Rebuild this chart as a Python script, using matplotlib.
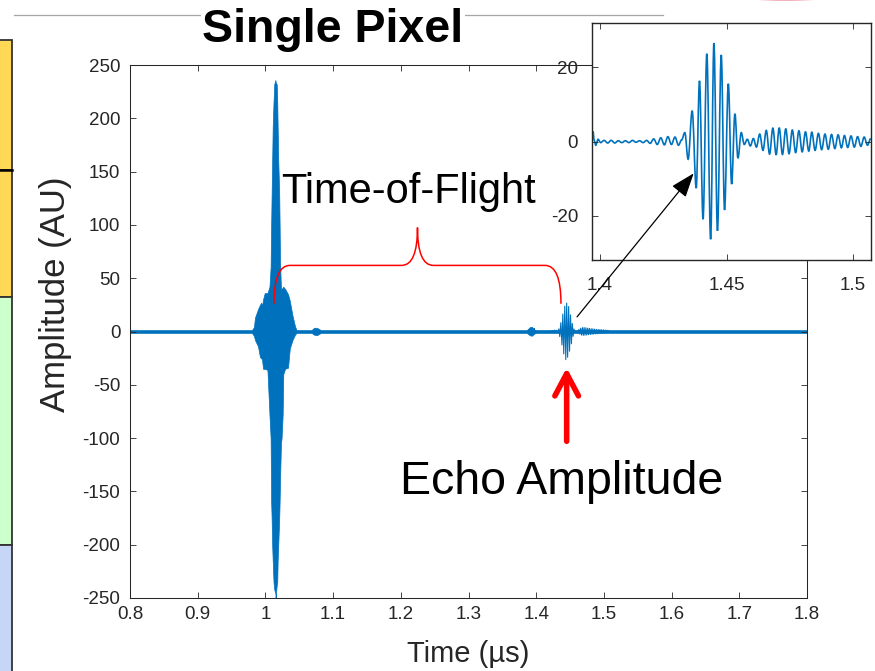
import numpy as np
import matplotlib
matplotlib.use("Agg")
import matplotlib.pyplot as plt
from matplotlib.path import Path
from matplotlib.patches import PathPatch, Rectangle, Ellipse

plt.rcParams["font.family"] = ["Liberation Sans", "DejaVu Sans"]
plt.rcParams["axes.unicode_minus"] = False

BLUE = "#0072BD"
INK = "#262626"

# envelope of the densely sampled A-scan (time in us, amplitude in AU)
env_t = [0.8000, 0.9800, 0.9830, 0.9846, 0.9891, 0.9920, 0.9935, 0.9950,
         0.9965, 0.9990, 1.0030, 1.0060, 1.0077, 1.0085, 1.0092, 1.0100,
         1.0108, 1.0120, 1.0131, 1.0148, 1.0151, 1.0167, 1.0175, 1.0181,
         1.0190, 1.0204, 1.0210, 1.0216, 1.0230, 1.0239, 1.0255, 1.0264,
         1.0290, 1.0334, 1.0360, 1.0400, 1.0437, 1.0460, 1.0680, 1.0720,
         1.0760, 1.0800, 1.0820, 1.3860, 1.3905, 1.3935, 1.3970, 1.4000,
         1.8000]
env_hi = [1.3, 1.3, 4, 13, 21, 25, 27, 24,
          30, 36, 36, 42, 60, 100, 129, 160,
          192, 215, 232, 236, 234, 232, 215, 192,
          160, 129, 100, 66, 40, 40, 41, 42,
          40, 35, 29, 15, 5, 1.3, 1.3, 3.5,
          3.5, 2, 1.3, 1.3, 4, 4.5, 2, 1.3,
          1.3]
env_lo = [-1.3, -1.3, -4, -8, -14, -24, -25, -26,
          -35, -35, -36, -78, -100, -160, -175, -200,
          -215, -235, -242, -246, -250, -238, -235, -215,
          -200, -175, -160, -140, -105, -100, -78, -40,
          -35, -34, -16, -8, -3, -1.3, -1.3, -3,
          -3.5, -2, -1.3, -1.3, -3.5, -4, -2, -1.3,
          -1.3]

# back-wall echo, successive extrema of the trace
echo_t = [1.3968, 1.3972, 1.3977, 1.3983, 1.3992, 1.4002, 1.4016, 1.4030,
          1.4044, 1.4058, 1.4072, 1.4086, 1.4100, 1.4114, 1.4128, 1.4142,
          1.4156, 1.4170, 1.4184, 1.4198, 1.4212, 1.4226, 1.4240, 1.4254,
          1.4268, 1.4282, 1.4296, 1.4310, 1.4322,
          1.4335, 1.4348, 1.4364, 1.4380, 1.4393, 1.4407, 1.4422, 1.4437,
          1.4450, 1.4464, 1.4479, 1.4492, 1.4507, 1.4520, 1.4533, 1.4545,
          1.4558, 1.4570, 1.4582, 1.4594, 1.4606, 1.4618,
          1.4631, 1.4644, 1.4657, 1.4670, 1.4683, 1.4696, 1.4708, 1.4721,
          1.4734, 1.4747, 1.4760, 1.4773, 1.4786, 1.4799, 1.4812, 1.4825,
          1.4837, 1.4850, 1.4863, 1.4876, 1.4889, 1.4902, 1.4915, 1.4928,
          1.4941, 1.4954, 1.4966, 1.4979, 1.4992, 1.5005, 1.5018, 1.5031,
          1.5044, 1.5057, 1.5070]
echo_amp = [0.4, 2.7, 0.2, -1.0, 0.6, -0.3, 0.3, -0.4,
            0.3, -0.4, 0.2, -0.3, 0.2, -0.3, 0.3, -0.2,
            0.2, -0.3, 0.3, -0.5, 0.7, -0.8, 1.0, -0.9,
            1.3, -0.8, 1.2, -1.0, 0.4,
            2.4, -4.8, 8.3, -12.6, 16.4, -21.0, 23.7, -26.4,
            26.6, -24.1, 23.4, -18.5, 15.6, -11.5, 7.5, -4.5,
            2.4, -0.8, 0.6, -1.2, 0.8, -1.5,
            2.0, -2.4, 3.0, -3.4, 3.6, -3.6, 3.7, -3.5,
            3.4, -3.3, 3.1, -3.0, 2.9, -2.8, 2.6, -2.6,
            2.5, -2.4, 2.2, -2.2, 2.0, -2.1, 1.9, -1.9,
            1.8, -1.7, 1.6, -1.6, 1.5, -1.5, 1.3, -1.3,
            1.2, -1.0, 0.8]

x_ticks = [0.8, 0.9, 1.0, 1.1, 1.2, 1.3, 1.4, 1.5, 1.6, 1.7, 1.8]
x_tick_labels = ["0.8", "0.9", "1", "1.1", "1.2", "1.3", "1.4", "1.5",
                 "1.6", "1.7", "1.8"]
y_ticks = [-250, -200, -150, -100, -50, 0, 50, 100, 150, 200, 250]
inset_x_ticks = [1.4, 1.45, 1.5]
inset_x_tick_labels = ["1.4", "1.45", "1.5"]
inset_y_ticks = [-20, 0, 20]

W, H = 875, 671
fig = plt.figure(figsize=(W / 100, H / 100), dpi=100)


def box(left, top, right, bottom):
    """pixel box -> figure fraction rect"""
    return [left / W, 1 - bottom / H, (right - left) / W, (bottom - top) / H]


def extrema_path(t, v):
    """bezier path through successive extrema with flat tangents at each"""
    verts = [(t[0], v[0])]
    codes = [Path.MOVETO]
    for i in range(1, len(t)):
        h = t[i] - t[i - 1]
        verts += [(t[i - 1] + 0.36 * h, v[i - 1]), (t[i] - 0.36 * h, v[i]),
                  (t[i], v[i])]
        codes += [Path.CURVE4] * 3
    return Path(verts, codes)


# slide background: side strips, rule line, title
deco = fig.add_axes([0, 0, 1, 1], zorder=0)
deco.set_xlim(0, W)
deco.set_ylim(H, 0)
deco.axis("off")
for y0, y1, fc in [(40, 170, "#FFD955"), (170, 297, "#FFD955"),
                   (297, 545, "#CCFFCC"), (545, 690, "#C6D6F6")]:
    deco.add_patch(Rectangle((-6, y0), 18, y1 - y0, fc=fc, ec="#333333", lw=1.3))
deco.plot([0, 12], [170, 170], color="black", lw=1.8)
deco.plot([14, 663], [15, 15], color="#a6a6a6", lw=0.9)
deco.add_patch(Ellipse((786, -5), 100, 12, fc="#ec7d89", ec="none", alpha=0.6))
deco.text(333, 42, "Single Pixel", fontsize=33.5, fontweight="bold", ha="center",
          va="baseline", bbox=dict(fc="white", ec="none", pad=1))

# main A-scan
ax = fig.add_axes(box(130, 65, 807, 598), zorder=1)
ax.fill_between(env_t, env_lo, env_hi, color=BLUE, lw=0.5)
ax.plot(echo_t, echo_amp, color=BLUE, lw=0.8)
ax.set_xlim(0.8, 1.8)
ax.set_ylim(-250, 250)
ax.set_xticks(x_ticks)
ax.set_xticklabels(x_tick_labels)
ax.set_yticks(y_ticks)
ax.tick_params(direction="in", length=4, width=0.6, colors=INK, labelsize=13.5,
               top=True, right=True)
ax.tick_params(axis="x", pad=6)
ax.tick_params(axis="y", pad=7)
for s in ax.spines.values():
    s.set_color(INK)
    s.set_linewidth(0.75)
ax.set_xlabel("Time (µs)", fontsize=21, color=INK, va="baseline")
ax.xaxis.set_label_coords(0.5, (598 - 662) / 533)
ax.set_ylabel("Amplitude (AU)", fontsize=25, color=INK, va="center")
ax.yaxis.set_label_coords((56 - 130) / 677, (598 - 294) / 533)

# time-of-flight brace between the front-face pulse and the echo
t0, t1 = 1.0127, 1.4366
v_end, v_bar, v_tip, dx = 26.0, 62.0, 97.5, 0.0235
tm = 0.5 * (t0 + t1)
verts = [(t0, v_end), (t0, v_bar), (t0 + dx, v_bar),
         (tm - dx, v_bar), (tm, v_bar), (tm, v_tip),
         (tm, v_bar), (tm + dx, v_bar),
         (t1 - dx, v_bar), (t1, v_bar), (t1, v_end)]
codes = [Path.MOVETO, Path.CURVE3, Path.CURVE3, Path.LINETO, Path.CURVE3,
         Path.CURVE3, Path.CURVE3, Path.CURVE3, Path.LINETO, Path.CURVE3,
         Path.CURVE3]
ax.add_patch(PathPatch(Path(verts, codes), fc="none", ec="red", lw=1.1,
                       zorder=3, clip_on=False))
ax.text(tm - 0.014, 121, "Time-of-Flight", fontsize=30, ha="center",
        va="baseline", color="black")

t_peak = echo_t[int(np.argmax(echo_amp))]
ax.annotate("", xy=(t_peak, -34), xytext=(t_peak, -103),
            arrowprops=dict(arrowstyle="->, head_length=1.6, head_width=0.85",
                            mutation_scale=10, color="red", lw=4,
                            capstyle="round", joinstyle="round",
                            shrinkA=0, shrinkB=0))
ax.text(1.4381, -152, "Echo Amplitude", fontsize=33.5, ha="center",
        va="baseline", color="black")

# zoomed echo
ins = fig.add_axes(box(592, 23, 871, 260), zorder=2)
ins.add_patch(PathPatch(extrema_path(echo_t, echo_amp), fc="none", ec=BLUE,
                        lw=1.2))
ins.set_xlim(1.3968, 1.5071)
ins.set_ylim(-32, 32)
ins.set_xticks(inset_x_ticks)
ins.set_xticklabels(inset_x_tick_labels)
ins.set_yticks(inset_y_ticks)
ins.tick_params(direction="in", length=4, width=0.6, colors=INK, labelsize=13.5,
                top=True, right=True)
ins.tick_params(axis="x", pad=12)
ins.tick_params(axis="y", pad=10)
for s in ins.spines.values():
    s.set_color(INK)
    s.set_linewidth(1.0)

ins.annotate("", xy=(1.4370, -8.6), xytext=(1.4603, 13.7),
             textcoords=ax.transData, annotation_clip=False,
             arrowprops=dict(arrowstyle="-|>, head_length=1.5, head_width=0.55",
                             mutation_scale=10, color="black", lw=0.9,
                             shrinkA=0, shrinkB=0))

fig.savefig("out.png", dpi=100)
